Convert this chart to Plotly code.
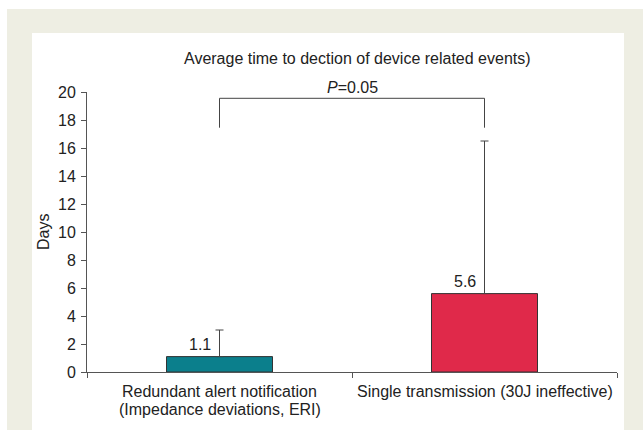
import plotly.graph_objects as go

categories = ["Redundant alert notification<br>(Impedance deviations, ERI)",
              "Single transmission (30J ineffective)"]
values = [1.1, 5.6]
err_plus = [1.9, 10.9]
value_labels = ["1.1", "5.6"]
bar_colors = ["#0b7f8c", "#e0294a"]
y_ticks = [0, 2, 4, 6, 8, 10, 12, 14, 16, 18, 20]
p_text = "<i>P</i>=0.05"
title_text = "Average time to dection of device related events)"

W, H = 643, 430
L, R, T, B = 87, 26, 92, 58
pw, ph = W - L - R, H - T - B
FONT = "Liberation Sans, Arial, Helvetica"
FS = 16
TFS = 16
TXT = "#222222"

def px_x(p):
    return (p - L) / pw

def px_y(p):
    return (H - B - p) / ph

fig = go.Figure()
fig.add_trace(go.Bar(
    x=categories, y=values, width=0.4,
    marker=dict(color=bar_colors, line=dict(color="#333333", width=1)),
    error_y=dict(type="data", symmetric=False, array=err_plus, arrayminus=[0, 0],
                 color="#444444", thickness=1, width=4),
    showlegend=False, hoverinfo="skip",
))

# value labels
for c, v, t in zip(categories, values, value_labels):
    fig.add_annotation(x=c, y=v, text=t, showarrow=False, xanchor="right",
                       yanchor="bottom", xshift=-7, yshift=2,
                       font=dict(size=FS, color=TXT, family=FONT))

# category labels (tight line spacing)
for c in categories:
    for i, line in enumerate(c.split("<br>")):
        fig.add_annotation(x=c, y=0, text=line, showarrow=False, xanchor="center",
                           yanchor="top", yshift=-9 - 18 * i,
                           font=dict(size=FS, color=TXT, family=FONT))

# significance bracket
br_top, br_bot = 19.55, 17.45
fig.add_shape(type="line", xref="x", yref="y", x0=categories[0], x1=categories[0], y0=br_bot, y1=br_top,
              line=dict(color="#444444", width=1))
fig.add_shape(type="line", xref="x", yref="y", x0=categories[1], x1=categories[1], y0=br_bot, y1=br_top,
              line=dict(color="#444444", width=1))
fig.add_shape(type="line", xref="x", yref="y", x0=categories[0], x1=categories[1], y0=br_top, y1=br_top,
              line=dict(color="#444444", width=1))
fig.add_annotation(x=0.5, xref="x", y=br_top, yref="y", text=p_text, showarrow=False,
                   yanchor="bottom", yshift=0,
                   font=dict(size=FS, color=TXT, family=FONT))

# backgrounds
fig.add_shape(type="rect", xref="paper", yref="paper", layer="below",
              x0=px_x(7), x1=px_x(643), y0=px_y(430), y1=px_y(9),
              fillcolor="#eeeee3", line=dict(width=0))
fig.add_shape(type="rect", xref="paper", yref="paper", layer="below",
              x0=px_x(32), x1=px_x(624), y0=px_y(430), y1=px_y(33),
              fillcolor="#ffffff", line=dict(width=0))

fig.add_annotation(x=px_x(357), xref="paper", y=px_y(58), yref="paper", text=title_text,
                   xanchor="center", yanchor="middle",
                   showarrow=False, font=dict(size=FS, color=TXT, family=FONT))
fig.add_annotation(x=px_x(43), xref="paper", y=px_y(232), yref="paper", text="Days",
                   xanchor="center", yanchor="middle",
                   textangle=-90, showarrow=False,
                   font=dict(size=TFS, color=TXT, family=FONT))

fig.update_layout(
    width=W, height=H,
    margin=dict(l=L, r=R, t=T, b=B, pad=0),
    paper_bgcolor="#ffffff", plot_bgcolor="rgba(0,0,0,0)",
    font=dict(family=FONT, size=FS, color=TXT),
    xaxis=dict(type="category", tickson="boundaries", ticks="outside", ticklen=5,
               tickcolor="#555555", showline=True, linecolor="#555555", linewidth=1,
               showgrid=False, zeroline=False, range=[-0.5, 1.5], showticklabels=False),
    yaxis=dict(range=[0, 20], tickvals=y_ticks, ticks="outside", ticklen=5,
               tickcolor="#555555", showline=True, linecolor="#555555", linewidth=1,
               showgrid=False, zeroline=False, ticklabelstandoff=2,
               tickfont=dict(size=TFS, color=TXT)),
)

fig.write_html("out.html", config={"displayModeBar": False},
               post_script="document.body.style.margin='0';document.body.style.overflow='hidden';")
